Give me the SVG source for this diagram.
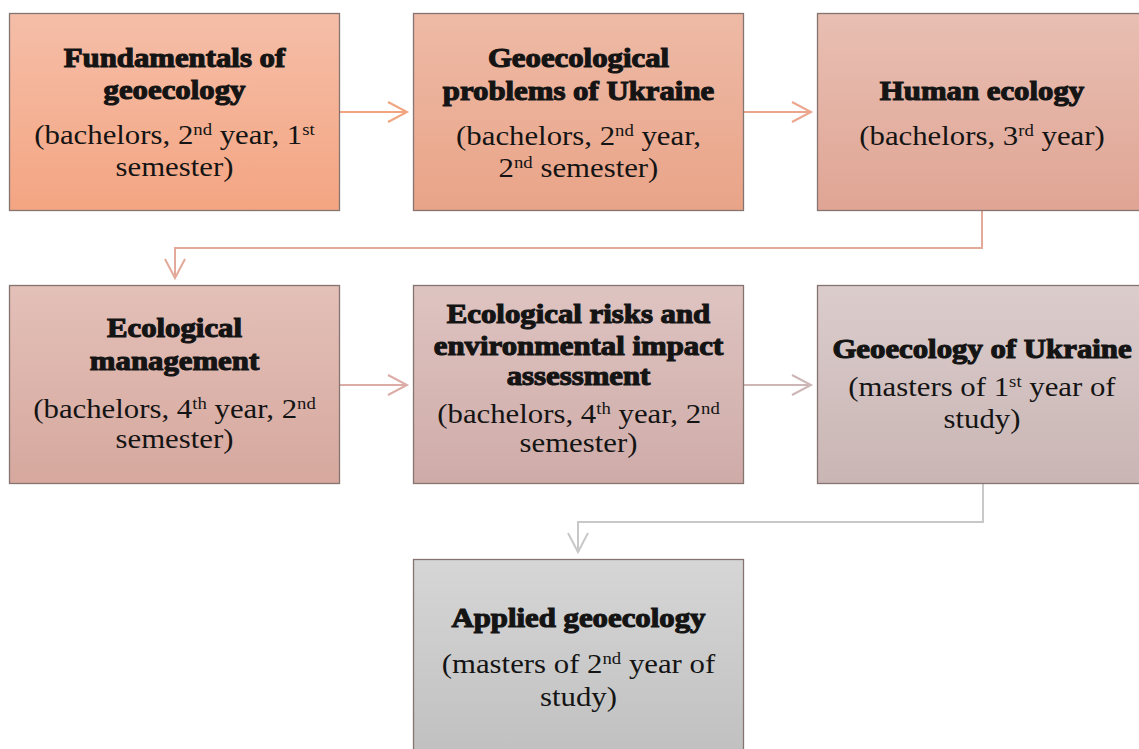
<svg xmlns="http://www.w3.org/2000/svg" width="1139" height="749" viewBox="0 0 1139 749">
  <style>
    .box { stroke: #857470; stroke-width: 1.3; }
    .t { font-family: "Liberation Serif", "Times New Roman", serif; font-size: 28px; fill: #141414; text-anchor: middle; }
    .b { font-size: 26.5px; font-weight: bold; stroke: #141414; stroke-width: 1.1; }
    .sup { font-size: 17px; }
    .c { fill: none; stroke-width: 2; }
  </style>
  <defs>
    <linearGradient id="g1" x1="0" y1="0" x2="0" y2="1"><stop offset="0" stop-color="#f5bea8"/><stop offset="1" stop-color="#f4a582"/></linearGradient>
    <linearGradient id="g2" x1="0" y1="0" x2="0" y2="1"><stop offset="0" stop-color="#eebaa6"/><stop offset="1" stop-color="#e9a488"/></linearGradient>
    <linearGradient id="g3" x1="0" y1="0" x2="0" y2="1"><stop offset="0" stop-color="#e8bfb3"/><stop offset="1" stop-color="#e0a594"/></linearGradient>
    <linearGradient id="g4" x1="0" y1="0" x2="0" y2="1"><stop offset="0" stop-color="#e3c0b8"/><stop offset="1" stop-color="#d6a89e"/></linearGradient>
    <linearGradient id="g5" x1="0" y1="0" x2="0" y2="1"><stop offset="0" stop-color="#dec4c1"/><stop offset="1" stop-color="#cfaba8"/></linearGradient>
    <linearGradient id="g6" x1="0" y1="0" x2="0" y2="1"><stop offset="0" stop-color="#dbcdcc"/><stop offset="1" stop-color="#c9b5b4"/></linearGradient>
    <linearGradient id="g7" x1="0" y1="0" x2="0" y2="1"><stop offset="0" stop-color="#d6d6d6"/><stop offset="1" stop-color="#c0c0c0"/></linearGradient>
  </defs>

  <!-- connectors: straight links between neighbours, elbows between rows -->
  <g id="connectors">
    <path class="c" stroke="#f2a47f" d="M339 112 H407 M388 102 L407 112 L388 122"/>
    <path class="c" stroke="#eba58c" d="M743 112 H811 M792 102 L811 112 L792 122"/>
    <path class="c" stroke="#e3a999" d="M982 210 V248 H175 V278 M165 259 L175 278 L185 259"/>
    <path class="c" stroke="#dcaca6" d="M339 385 H407 M388 375 L407 385 L388 395"/>
    <path class="c" stroke="#cdb6b6" d="M743 385 H811 M792 375 L811 385 L792 395"/>
    <path class="c" stroke="#c8c8c8" d="M983 484 V522 H578 V552 M568 533 L578 552 L588 533"/>
  </g>

  <g id="fundamentals">
    <rect class="box" x="9.5" y="13.5" width="330" height="197" fill="url(#g1)"/>
    <g transform="matrix(1.162 0 0 1 -28.27 0)">
      <text class="t b" x="174.5" y="67">Fundamentals of</text>
      <text class="t b" x="174.5" y="99">geoecology</text>
    </g>
    <g transform="matrix(1.1 0 0 1 -17.45 0)">
      <text class="t" x="174.5" y="144">(bachelors, 2<tspan class="sup" dy="-9">nd</tspan><tspan dy="9"> year, 1</tspan><tspan class="sup" dy="-9">st</tspan></text>
      <text class="t" x="174.5" y="176">semester)</text>
    </g>
  </g>

  <g id="geo-problems">
    <rect class="box" x="413.5" y="13.5" width="330" height="197" fill="url(#g2)"/>
    <g transform="matrix(1.162 0 0 1 -93.72 0)">
      <text class="t b" x="578.5" y="67">Geoecological</text>
      <text class="t b" x="578.5" y="100">problems of Ukraine</text>
    </g>
    <g transform="matrix(1.1 0 0 1 -57.85 0)">
      <text class="t" x="578.5" y="145">(bachelors, 2<tspan class="sup" dy="-9">nd</tspan><tspan dy="9"> year,</tspan></text>
      <text class="t" x="578.5" y="177">2<tspan class="sup" dy="-9">nd</tspan><tspan dy="9"> semester)</tspan></text>
    </g>
  </g>

  <g id="human-ecology">
    <rect class="box" x="817.5" y="13.5" width="330" height="197" fill="url(#g3)"/>
    <g transform="matrix(1.162 0 0 1 -159.08 0)">
      <text class="t b" x="982" y="100">Human ecology</text>
    </g>
    <g transform="matrix(1.1 0 0 1 -98.2 0)">
      <text class="t" x="982" y="145">(bachelors, 3<tspan class="sup" dy="-9">rd</tspan><tspan dy="9"> year)</tspan></text>
    </g>
  </g>

  <g id="eco-management">
    <rect class="box" x="9.5" y="285.5" width="330" height="198" fill="url(#g4)"/>
    <g transform="matrix(1.162 0 0 1 -28.27 0)">
      <text class="t b" x="174.5" y="337">Ecological</text>
      <text class="t b" x="174.5" y="370">management</text>
    </g>
    <g transform="matrix(1.1 0 0 1 -17.45 0)">
      <text class="t" x="174.5" y="418">(bachelors, 4<tspan class="sup" dy="-9">th</tspan><tspan dy="9"> year, 2</tspan><tspan class="sup" dy="-9">nd</tspan></text>
      <text class="t" x="174.5" y="448">semester)</text>
    </g>
  </g>

  <g id="eco-risks">
    <rect class="box" x="413.5" y="285.5" width="330" height="198" fill="url(#g5)"/>
    <g transform="matrix(1.162 0 0 1 -93.72 0)">
      <text class="t b" x="578.5" y="323">Ecological risks and</text>
      <text class="t b" x="578.5" y="355">environmental impact</text>
      <text class="t b" x="578.5" y="385">assessment</text>
    </g>
    <g transform="matrix(1.1 0 0 1 -57.85 0)">
      <text class="t" x="578.5" y="423">(bachelors, 4<tspan class="sup" dy="-9">th</tspan><tspan dy="9"> year, 2</tspan><tspan class="sup" dy="-9">nd</tspan></text>
      <text class="t" x="578.5" y="452">semester)</text>
    </g>
  </g>

  <g id="geo-ukraine">
    <rect class="box" x="817.5" y="285.5" width="330" height="198" fill="url(#g6)"/>
    <g transform="matrix(1.162 0 0 1 -159.08 0)">
      <text class="t b" x="982" y="358">Geoecology of Ukraine</text>
    </g>
    <g transform="matrix(1.1 0 0 1 -98.2 0)">
      <text class="t" x="982" y="396">(masters of 1<tspan class="sup" dy="-9">st</tspan><tspan dy="9"> year of</tspan></text>
      <text class="t" x="982" y="428">study)</text>
    </g>
  </g>

  <g id="applied-geoecology">
    <rect class="box" x="413.5" y="559.5" width="330" height="198" fill="url(#g7)"/>
    <g transform="matrix(1.162 0 0 1 -93.72 0)">
      <text class="t b" x="578.5" y="627">Applied geoecology</text>
    </g>
    <g transform="matrix(1.1 0 0 1 -57.85 0)">
      <text class="t" x="578.5" y="673">(masters of 2<tspan class="sup" dy="-9">nd</tspan><tspan dy="9"> year of</tspan></text>
      <text class="t" x="578.5" y="706">study)</text>
    </g>
  </g>
</svg>
